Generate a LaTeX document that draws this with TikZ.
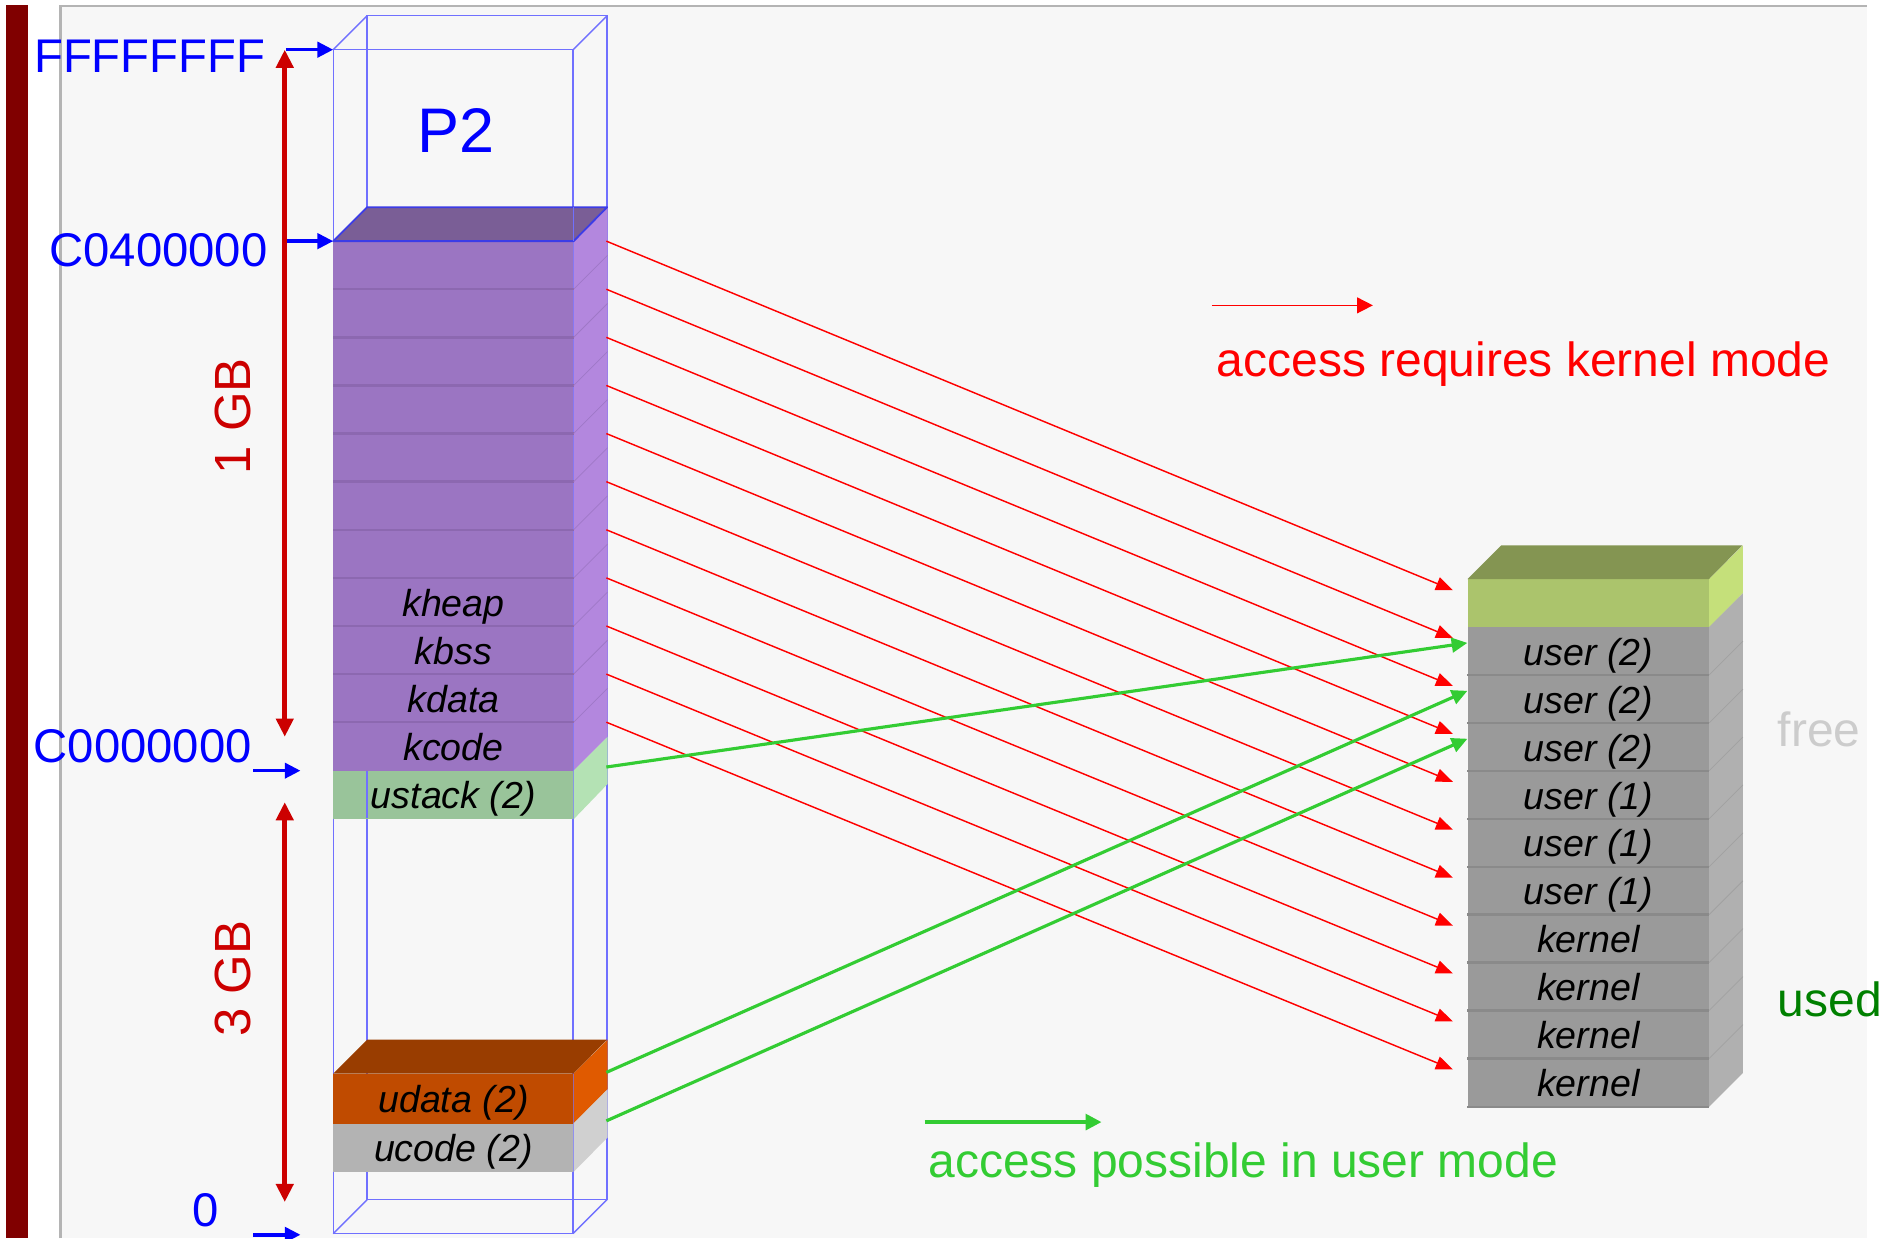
\documentclass[tikz,border=0pt]{standalone}
\usepackage{fontspec}
\setmainfont{Liberation Sans}
\usetikzlibrary{arrows.meta,calc}

\definecolor{barRed}{HTML}{800000}
\definecolor{panelFill}{HTML}{F7F7F7}
\definecolor{panelLine}{HTML}{B4B4B4}
\definecolor{wireBlue}{HTML}{7070FF}
\definecolor{edgeBlue}{HTML}{3C3CE6}
\definecolor{sizeRed}{HTML}{CC0000}
\definecolor{purpleFront}{HTML}{9B75C2}
\definecolor{purpleTop}{HTML}{7A5E96}
\definecolor{purpleSide}{HTML}{B387DE}
\definecolor{purpleSep}{HTML}{8C68B0}
\definecolor{stackFront}{HTML}{99C49A}
\definecolor{stackSide}{HTML}{B4E2B4}
\definecolor{dataFront}{HTML}{C04B00}
\definecolor{dataTop}{HTML}{993D00}
\definecolor{dataSide}{HTML}{E05A00}
\definecolor{codeFront}{HTML}{B3B3B3}
\definecolor{codeSide}{HTML}{D0D0D0}
\definecolor{freeTop}{HTML}{849552}
\definecolor{freeFront}{HTML}{ABC46C}
\definecolor{freeSide}{HTML}{C5E07A}
\definecolor{frameFront}{HTML}{9A9A9A}
\definecolor{frameSide}{HTML}{B0B0B0}
\definecolor{frameSep}{HTML}{8A8A8A}
\definecolor{userGreen}{HTML}{33CC33}
\definecolor{usedGreen}{HTML}{008000}
\definecolor{freeGray}{HTML}{CCCCCC}

\tikzset{
  wire/.style={draw=wireBlue, line width=1.2pt},
  addr/.style={text=blue, inner sep=0pt, font=\fontsize{39}{39}\selectfont},
  gblabel/.style={text=sizeRed, inner sep=0pt, rotate=90, font=\fontsize{42}{42}\selectfont},
  addrarrow/.style={draw=blue, line width=3pt, -{Triangle[length=13pt,width=12.5pt]}},
  sizearrow/.style={draw=sizeRed, line width=4.5pt,
    {Triangle[length=15pt,width=14pt]}-{Triangle[length=15pt,width=14pt]}},
  vrow/.style={rectangle, inner sep=0pt, anchor=north west, minimum width=198pt,
    minimum height=39.7pt, text height=23pt, text depth=0pt,
    font=\itshape\fontsize{31}{31}\selectfont},
  prow/.style={rectangle, inner sep=0pt, anchor=north west, minimum width=199pt,
    minimum height=39.55pt, text height=23pt, text depth=0pt,
    font=\itshape\fontsize{31}{31}\selectfont},
  karrow/.style={draw=red, line width=1.2pt, -{Triangle[length=14pt,width=11pt]}},
  uarrow/.style={draw=userGreen, line width=2.6pt, -{Triangle[length=13pt,width=12pt]}},
  legend/.style={inner sep=0pt, anchor=base west, font=\fontsize{39.6}{39.6}\selectfont},
}

\begin{document}
\begin{tikzpicture}[x=1pt,y=-1pt]
\useasboundingbox (0,0) rectangle (1568,1022);

% page background, side bar and panel
\fill[white] (0,0) rectangle (1568,1022);
\fill[barRed] (5,4) rectangle (23,1022);
\fill[panelFill] (50,5) rectangle (1541,1022);
\draw[panelLine, line width=2pt] (50,1022) -- (50,5) -- (1541,5);

% wireframe of the 4 GB virtual address space
\draw[wire] (303,13) rectangle (501,990);
\draw[wire] (275,41) rectangle (473,1018);
\draw[wire] (275,41) -- (303,13) (473,41) -- (501,13)
            (275,1018) -- (303,990) (473,1018) -- (501,990);
\node[text=blue, font=\fontsize{52}{52}\selectfont, inner sep=0pt] (p2) at (376,108) {P2};

% kernel part: 11 pages
\foreach \i in {0,...,6}
  \node[vrow, fill=purpleFront] (v\i) at (275,{199+39.7*\i}) {};
\foreach \i/\t in {7/kheap,8/kbss,9/kdata,10/kcode}
  \node[vrow, fill=purpleFront] (v\i) at (275,{199+39.7*\i}) {\t};
\fill[purpleSide] (v0.north east) -- ++(28,-28) -- ($(v10.south east)+(28,-28)$)
  -- (v10.south east) -- cycle;
\foreach \i in {1,...,10}{
  \draw[purpleSep, line width=2pt] (v\i.north west) -- (v\i.north east);
  \draw[purpleSep!50!purpleSide, line width=0.6pt] (v\i.north east) -- ++(28,-28);
}
\filldraw[fill=purpleTop, draw=edgeBlue, line width=1.5pt, line join=round]
  (v0.north west) -- ++(28,-28) -- ++(198,0) -- (v0.north east) -- cycle;
\draw[wire] (v0.north east) -- ++(0,-28);

% user stack
\node[vrow, fill=stackFront] (us) at (275,636) {ustack (2)};
\fill[stackSide] (us.north east) -- ++(28,-28) -- ++(0,39) -- (us.south east) -- cycle;
\draw[wire] (303,636) -- (303,675);

% user data and code
\node[vrow, minimum height=41pt, fill=dataFront] (ud) at (275,886) {udata (2)};
\fill[dataTop] (ud.north west) -- ++(28,-28) -- ++(198,0) -- (ud.north east) -- cycle;
\fill[dataSide] (ud.north east) -- ++(28,-28) -- ++(0,41) -- (ud.south east) -- cycle;
\node[vrow, fill=codeFront] (uc) at (275,927) {ucode (2)};
\fill[codeSide] (uc.north east) -- ++(28,-28) -- ++(0,39.7) -- (uc.south east) -- cycle;

% address labels and markers
\node[addr, anchor=base east] (aFF) at (219,60) {FFFFFFFF};
\node[addr, anchor=base east] (aC4) at (221,220) {C0400000};
\node[addr, anchor=base east] (aC0) at (208,629) {C0000000};
\node[addr, anchor=base] (aZero) at (170,1012) {0};
\coordinate (mFFs) at (236,41);   \coordinate (mFFe) at (275,41);
\coordinate (mC4s) at (237,199);  \coordinate (mC4e) at (v0.north west);
\coordinate (mC0s) at (209,636);  \coordinate (mC0e) at (248,636);
\coordinate (mZs) at (209,1019);  \coordinate (mZe) at (248,1019);
\draw[addrarrow] (mFFs) -- (mFFe);
\draw[addrarrow] (mC4s) -- (mC4e);
\draw[addrarrow] (mC0s) -- (mC0e);
\draw[addrarrow] (mZs) -- (mZe);

% region sizes
\coordinate (gTop) at (235,41);   \coordinate (gMid) at (235,608);
\coordinate (gLow) at (235,662);  \coordinate (gBot) at (235,992);
\draw[sizearrow] (gTop) -- (gMid);
\draw[sizearrow] (gLow) -- (gBot);
\node[gblabel] (g1) at (192,343.5) {1 GB};
\node[gblabel] (g3) at (192,807.5) {3 GB};

% physical memory frames
\node[prow, fill=freeFront] (p0) at (1211,478) {};
\foreach \i/\t in {1/user (2),2/user (2),3/user (2),4/user (1),5/user (1),6/user (1),
                   7/kernel,8/kernel,9/kernel,10/kernel}
  \node[prow, fill=frameFront] (p\i) at (1211,{478+39.55*\i}) {\t};
\fill[freeTop] (p0.north west) -- ++(28,-28) -- ++(199,0) -- (p0.north east) -- cycle;
\fill[freeSide] (p0.north east) -- ++(28,-28) -- ++(0,39.55) -- (p0.south east) -- cycle;
\fill[frameSide] (p1.north east) -- ++(28,-28) -- ($(p10.south east)+(28,-28)$)
  -- (p10.south east) -- cycle;
\foreach \i in {2,...,10}{
  \draw[frameSep, line width=2pt] (p\i.north west) -- (p\i.north east);
  \draw[frameSep!40!frameSide, line width=0.6pt] (p\i.north east) -- ++(28,-28);
}
\draw[frameSep, line width=2pt] (p10.south west) -- (p10.south east);
\node[legend, text=freeGray] (free) at (1467,616) {free};
\node[legend, text=usedGreen] (used) at (1467,839) {used};

% page table mappings: kernel only
\foreach \i in {0,...,10}
  \draw[karrow] ($(v\i.north east)+(27,0)$) -- ($(p\i.north west)+(-12,9)$);

% page table mappings: user accessible
\draw[uarrow] ($(us.north east)+(27,-3)$) -- ($(p1.north west)+(0,13)$);
\draw[uarrow] ($(ud.north east)+(27,-1)$) -- ($(p2.north west)+(0,13)$);
\draw[uarrow] ($(uc.north east)+(27,-2)$) -- ($(p3.north west)+(0,13)$);

% legend
\coordinate (lkS) at (1000,252); \coordinate (lkE) at (1133,252);
\draw[draw=red, line width=1.3pt, -{Triangle[length=13pt,width=13pt]}] (lkS) -- (lkE);
\node[legend, text=red] (lk) at (1004,311) {access requires kernel mode};
\coordinate (luS) at (763,926); \coordinate (luE) at (909,926);
\draw[draw=userGreen, line width=2.7pt, -{Triangle[length=13pt,width=13pt]}] (luS) -- (luE);
\node[legend, text=userGreen] (lu) at (766,972) {access possible in user mode};
\end{tikzpicture}
\end{document}
